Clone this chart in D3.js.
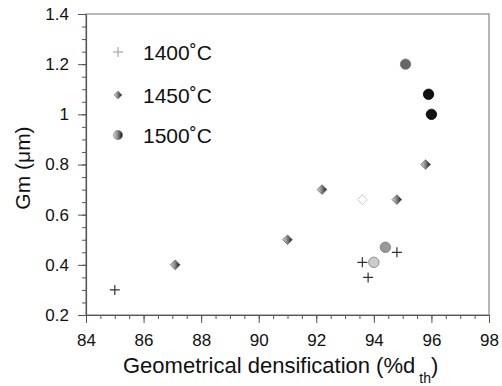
<!DOCTYPE html>
<html>
<head>
<meta charset="utf-8">
<script src="https://cdn.jsdelivr.net/npm/d3@7"></script>
<style>
  body { margin: 0; background: #fff; }
  text, tspan { font-family: "Liberation Sans", Arial, sans-serif; fill: #111; }
</style>
</head>
<body>
<svg width="502" height="386"></svg>
<script>
// DATA
var xTicks = [84, 86, 88, 90, 92, 94, 96, 98];
var yTicks = [0.2, 0.4, 0.6, 0.8, 1, 1.2, 1.4];
var yTickLabels = ["0.2", "0.4", "0.6", "0.8", "1", "1.2", "1.4"];

var seriesNames = ["1400\u02DAC", "1450\u02DAC", "1500\u02DAC"];

var x1400 = [85, 93.6, 93.8, 94.8];
var y1400 = [0.30, 0.41, 0.35, 0.45];

var x1450 = [87.1, 91.0, 92.2, 93.6, 94.8, 95.8];
var y1450 = [0.40, 0.50, 0.70, 0.66, 0.66, 0.80];

var x1500 = [95.1, 95.9, 96.0, 94.4, 94.0];
var y1500 = [1.20, 1.08, 1.00, 0.47, 0.41];

// styles (per point shading, as in the original)
var diamondFills = ["url(#grad)", "url(#grad)", "url(#grad)", "#fff", "url(#grad)", "url(#grad)"];
var circleFills = ["#666", "#111", "#111", "#999", "#ccc"];

var svg = d3.select("svg"),
    margin = {left: 86, right: 13, top: 14, bottom: 71},
    width = 502, height = 386;

var x = d3.scaleLinear().domain([84, 98]).range([margin.left, width - margin.right]);
var y = d3.scaleLinear().domain([0.2, 1.4]).range([height - margin.bottom, margin.top]);

var defs = svg.append("defs");
var grad = defs.append("linearGradient").attr("id", "grad")
    .attr("x1", "0%").attr("x2", "100%").attr("y1", "0%").attr("y2", "0%");
grad.append("stop").attr("offset", "0%").attr("stop-color", "#ddd");
grad.append("stop").attr("offset", "55%").attr("stop-color", "#777");
grad.append("stop").attr("offset", "100%").attr("stop-color", "#111");

// FRAME
svg.append("rect")
    .attr("x", x(84)).attr("y", y(1.4))
    .attr("width", x(98) - x(84)).attr("height", y(0.2) - y(1.4))
    .attr("fill", "none").attr("stroke", "#888").attr("stroke-width", 1.2);

// AXES
svg.append("g")
    .attr("transform", "translate(0," + y(0.2) + ")")
    .call(d3.axisBottom(x).tickValues(xTicks).tickSize(8).tickSizeOuter(0).tickPadding(11));
svg.append("g")
    .attr("transform", "translate(0," + y(0.2) + ")")
    .call(d3.axisBottom(x).tickValues(d3.range(84, 98.01, 0.5)).tickSize(4).tickFormat(""))
    .select(".domain").remove();

svg.append("g")
    .attr("transform", "translate(" + x(84) + ",0)")
    .call(d3.axisLeft(y).tickValues(yTicks).tickSize(8).tickSizeOuter(0).tickPadding(9)
      .tickFormat(function(d, i) { return yTickLabels[i]; }));
svg.append("g")
    .attr("transform", "translate(" + x(84) + ",0)")
    .call(d3.axisLeft(y).tickValues(d3.range(0.2, 1.401, 0.05)).tickSize(4).tickFormat(""))
    .select(".domain").remove();

svg.selectAll(".domain").attr("stroke", "#555").attr("stroke-width", 1.2);
svg.selectAll(".tick line").attr("stroke", "#555");
svg.selectAll(".tick text").style("font-size", "17px").attr("fill", "#111");

// AXIS TITLES
var xt = svg.append("text")
    .attr("x", 123).attr("y", 373)
    .style("font-size", "22px");
xt.append("tspan").text("Geometrical densification (%d");
xt.append("tspan").attr("dx", 4).attr("dy", 10).style("font-size", "14px").text("th");
xt.append("tspan").attr("dy", -10).text(")");

svg.append("text")
    .attr("transform", "translate(30,168) rotate(-90)")
    .attr("text-anchor", "middle").style("font-size", "21px")
    .text("Gm (\u03BCm)");

// MARKS
var diamond = d3.symbol().type(d3.symbolDiamond2).size(60);

svg.append("g").selectAll("path")
    .data(d3.range(x1400.length))
    .enter().append("path")
      .attr("d", "M-5,0H5M0,-5V5")
      .attr("transform", function(i) { return "translate(" + x(x1400[i]) + "," + y(y1400[i]) + ")"; })
      .attr("stroke", "#333").attr("stroke-width", 1.2);

svg.append("g").selectAll("path")
    .data(d3.range(x1450.length))
    .enter().append("path")
      .attr("d", diamond)
      .attr("transform", function(i) { return "translate(" + x(x1450[i]) + "," + y(y1450[i]) + ")"; })
      .attr("fill", function(i) { return diamondFills[i]; })
      .attr("stroke", function(i) { return diamondFills[i] == "#fff" ? "#bbb" : "#666"; })
      .attr("stroke-width", 0.8);

svg.append("g").selectAll("circle")
    .data(d3.range(x1500.length))
    .enter().append("circle")
      .attr("cx", function(i) { return x(x1500[i]); })
      .attr("cy", function(i) { return y(y1500[i]); })
      .attr("r", 5.2)
      .attr("fill", function(i) { return circleFills[i]; })
      .attr("stroke", function(i) { return i == 1 || i == 2 ? "#000" : "#777"; })
      .attr("stroke-width", 0.8);

// LEGEND
var legY = [52, 95, 135];
var leg = svg.append("g");
leg.append("path").attr("d", "M-5,0H5M0,-5V5")
    .attr("transform", "translate(118," + legY[0] + ")")
    .attr("stroke", "#999").attr("stroke-width", 1);
leg.append("path").attr("d", d3.symbol().type(d3.symbolDiamond2).size(40))
    .attr("transform", "translate(118," + legY[1] + ")")
    .attr("fill", "url(#grad)").attr("stroke", "#777").attr("stroke-width", 0.6);
leg.append("circle").attr("cx", 118).attr("cy", legY[2]).attr("r", 4.6)
    .attr("fill", "url(#grad)").attr("stroke", "#777").attr("stroke-width", 0.6);
leg.selectAll("text")
    .data(seriesNames)
    .enter().append("text")
      .attr("x", 143).attr("y", function(d, i) { return legY[i] + 8; })
      .style("font-size", "21px")
      .text(function(d) { return d; });
</script>
</body>
</html>
